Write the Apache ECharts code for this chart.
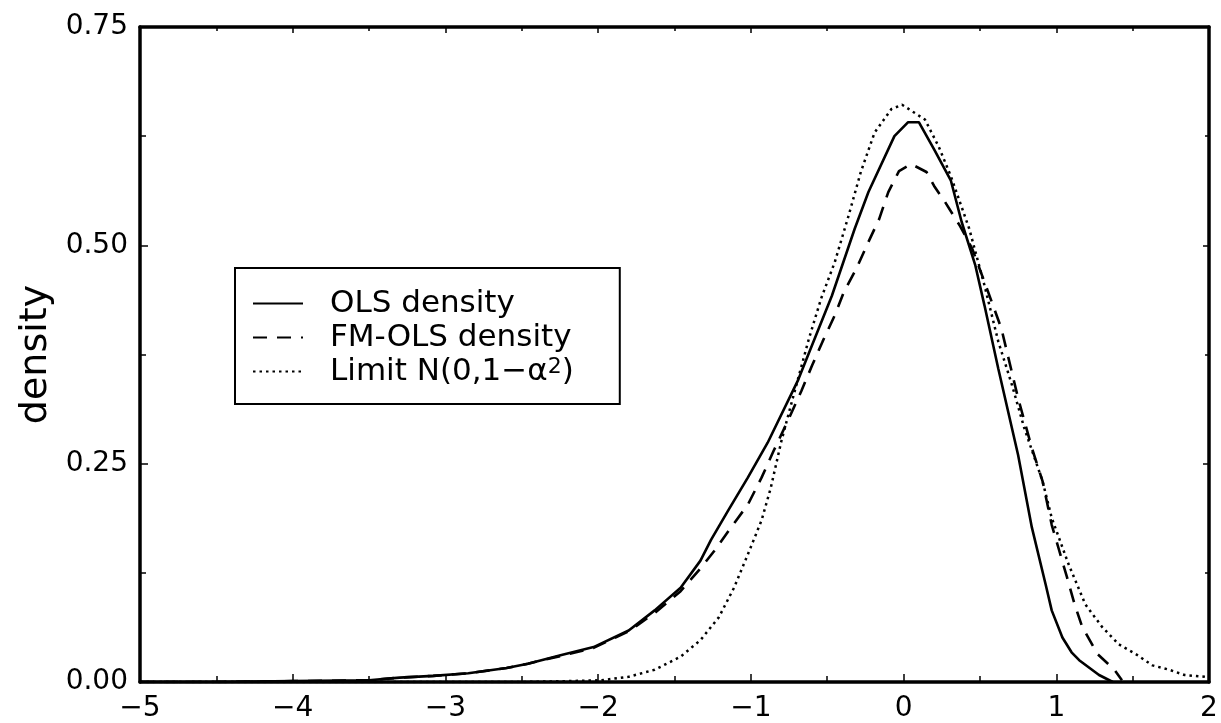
<!DOCTYPE html>
<html>
<head>
<meta charset="utf-8">
<script src="https://cdn.jsdelivr.net/npm/echarts@6/dist/echarts.min.js"></script>
<style>html,body{margin:0;padding:0;background:#fff;}#chart{width:1221px;height:723px;}</style>
</head>
<body>
<div id="chart"></div>
<script>
// x-axis ticks and y-axis ticks
var xTicks = [-5, -4, -3, -2, -1, 0, 1, 2];
var yTicks = [0, 0.25, 0.5, 0.75];
var seriesNames = ['OLS density', 'FM-OLS density', 'Limit N(0,1\u2212\u03b1\u00b2)'];

// OLS density (solid) [x, density]
var olsDensity = [
  [-5,0],[-4.5,0],[-4,0.001],[-3.5,0.002],[-3.3,0.005],[-3.08,0.007],[-2.85,0.010],[-2.6,0.016],
  [-2.46,0.021],[-2.24,0.031],[-2.03,0.040],[-1.8,0.059],[-1.63,0.082],[-1.46,0.108],[-1.33,0.139],
  [-1.26,0.163],[-1.15,0.196],[-1.02,0.234],[-0.89,0.274],[-0.69,0.346],[-0.47,0.442],[-0.32,0.519],
  [-0.23,0.561],[-0.06,0.625],[0.03,0.641],[0.10,0.641],[0.20,0.610],[0.31,0.574],[0.38,0.527],
  [0.47,0.477],[0.53,0.431],[0.62,0.359],[0.75,0.260],[0.84,0.177],[0.93,0.112],[0.97,0.082],
  [1.04,0.051],[1.10,0.034],[1.15,0.025],[1.28,0.008],[1.37,0.0]
];

// FM-OLS density (dashed)
var fmOlsDensity = [
  [-5,0],[-4.5,0],[-4,0.001],[-3.5,0.002],[-3.3,0.005],[-3.08,0.007],[-2.85,0.010],[-2.6,0.016],
  [-2.46,0.021],[-2.24,0.030],[-2.03,0.039],[-1.8,0.058],[-1.63,0.079],[-1.46,0.104],[-1.33,0.130],
  [-1.24,0.150],[-1.13,0.177],[-1.02,0.203],[-0.93,0.234],[-0.85,0.265],[-0.75,0.302],[-0.67,0.333],
  [-0.60,0.362],[-0.53,0.390],[-0.45,0.420],[-0.39,0.447],[-0.31,0.473],[-0.23,0.504],[-0.16,0.530],
  [-0.10,0.561],[-0.03,0.585],[0.05,0.593],[0.15,0.584],[0.20,0.568],[0.27,0.550],[0.37,0.522],
  [0.45,0.496],[0.53,0.458],[0.64,0.405],[0.75,0.325],[0.84,0.268],[0.91,0.230],[0.97,0.180],
  [1.02,0.150],[1.07,0.120],[1.12,0.089],[1.17,0.063],[1.27,0.032],[1.38,0.014],[1.43,0.002]
];

// Limit N(0,1-alpha^2) (dotted)
var limitDensity = [
  [-5,0],[-2.5,0],[-2.2,0.001],[-1.98,0.002],[-1.80,0.006],[-1.63,0.014],[-1.46,0.029],[-1.33,0.048],
  [-1.21,0.074],[-1.11,0.108],[-1.02,0.146],[-0.93,0.185],[-0.87,0.222],[-0.80,0.276],[-0.73,0.322],
  [-0.62,0.393],[-0.54,0.439],[-0.45,0.481],[-0.36,0.534],[-0.28,0.584],[-0.19,0.629],[-0.08,0.656],
  [-0.01,0.661],[0.14,0.644],[0.23,0.613],[0.31,0.579],[0.43,0.519],[0.53,0.454],[0.62,0.390],
  [0.71,0.340],[0.79,0.291],[0.91,0.230],[0.97,0.188],[1.08,0.135],[1.19,0.089],[1.30,0.063],
  [1.41,0.043],[1.52,0.032],[1.63,0.019],[1.74,0.014],[1.84,0.008],[1.97,0.006],[2.0,0.005]
];

var FONT = 'DejaVu Sans';
var chart = echarts.init(document.getElementById('chart'), null, {renderer: 'canvas'});

function fmtX(v) { return v < 0 ? '\u2212' + Math.abs(v) : String(v); }
function fmtY(v) { return v.toFixed(2); }

var axisLineStyle = {color: '#000', width: 3.5};
var tickStyle = {color: '#000', width: 1.5};
var noSymbol = {color: 'rgba(0,0,0,0)', borderWidth: 0, borderColor: 'rgba(0,0,0,0)'};

var option = {
  backgroundColor: '#fff',
  animation: false,
  grid: {left: 140, right: 12, top: 27, bottom: 38, containLabel: false},
  legend: {
    orient: 'vertical',
    left: 235, top: 268,
    padding: [20, 46, 17, 17],
    itemGap: 3,
    itemWidth: 50,
    itemHeight: 14,
    borderColor: '#000',
    borderWidth: 2,
    backgroundColor: '#fff',
    itemStyle: noSymbol,
    data: seriesNames,
    formatter: function (name) {
      if (name === seriesNames[2]) {
        return '{t|Limit N(0,1\u2212\u03b1}{s|2}{t|)}';
      }
      return '{t|' + name + '}';
    },
    textStyle: {
      fontFamily: FONT, fontSize: 31, color: '#000', lineHeight: 30, padding: [0, 0, 0, 22],
      rich: {
        t: {fontFamily: FONT, fontSize: 31, color: '#000', lineHeight: 30},
        s: {fontFamily: FONT, fontSize: 22, color: '#000', lineHeight: 14, verticalAlign: 'top'}
      }
    }
  },
  xAxis: [{
    type: 'value', min: xTicks[0], max: xTicks[xTicks.length - 1], interval: 1,
    axisLine: {show: true, onZero: false, lineStyle: axisLineStyle},
    axisTick: {show: true, inside: true, length: 8, lineStyle: tickStyle},
    minorTick: {show: true, splitNumber: 2, length: 6, lineStyle: tickStyle},
    splitLine: {show: false},
    axisLabel: {show: true, formatter: fmtX, fontFamily: FONT, fontSize: 28, color: '#000', margin: 13}
  }, {
    type: 'value', position: 'top', min: xTicks[0], max: xTicks[xTicks.length - 1], interval: 1,
    axisLine: {show: true, onZero: false, lineStyle: axisLineStyle},
    axisTick: {show: true, inside: true, length: 6, lineStyle: tickStyle},
    minorTick: {show: true, splitNumber: 2, length: 4, lineStyle: tickStyle},
    splitLine: {show: false},
    axisLabel: {show: false}
  }],
  yAxis: [{
    type: 'value', min: yTicks[0], max: yTicks[yTicks.length - 1], interval: 0.25,
    name: 'density', nameLocation: 'middle', nameGap: 82,
    nameTextStyle: {fontFamily: FONT, fontSize: 38, color: '#000'},
    axisLine: {show: true, onZero: false, lineStyle: axisLineStyle},
    axisTick: {show: true, inside: true, length: 8, lineStyle: tickStyle},
    minorTick: {show: true, splitNumber: 2, length: 6, lineStyle: tickStyle},
    splitLine: {show: false},
    axisLabel: {show: true, formatter: fmtY, fontFamily: FONT, fontSize: 28, color: '#000', margin: 12}
  }, {
    type: 'value', position: 'right', min: yTicks[0], max: yTicks[yTicks.length - 1], interval: 0.25,
    axisLine: {show: true, onZero: false, lineStyle: axisLineStyle},
    axisTick: {show: true, inside: true, length: 6, lineStyle: tickStyle},
    minorTick: {show: true, splitNumber: 2, length: 4, lineStyle: tickStyle},
    splitLine: {show: false},
    axisLabel: {show: false}
  }],
  series: [{
    name: seriesNames[0], type: 'line', data: olsDensity,
    showSymbol: false, symbol: 'none', smooth: false,
    lineStyle: {color: '#000', width: 2.6, type: 'solid'},
    itemStyle: noSymbol
  }, {
    name: seriesNames[1], type: 'line', data: fmOlsDensity,
    showSymbol: false, symbol: 'none', smooth: false,
    lineStyle: {color: '#000', width: 2.6, type: [14, 10]},
    itemStyle: noSymbol
  }, {
    name: seriesNames[2], type: 'line', data: limitDensity,
    showSymbol: false, symbol: 'none', smooth: false,
    lineStyle: {color: '#000', width: 2.5, type: [2.5, 4]},
    itemStyle: noSymbol
  }]
};
chart.setOption(option);
</script>
</body>
</html>
